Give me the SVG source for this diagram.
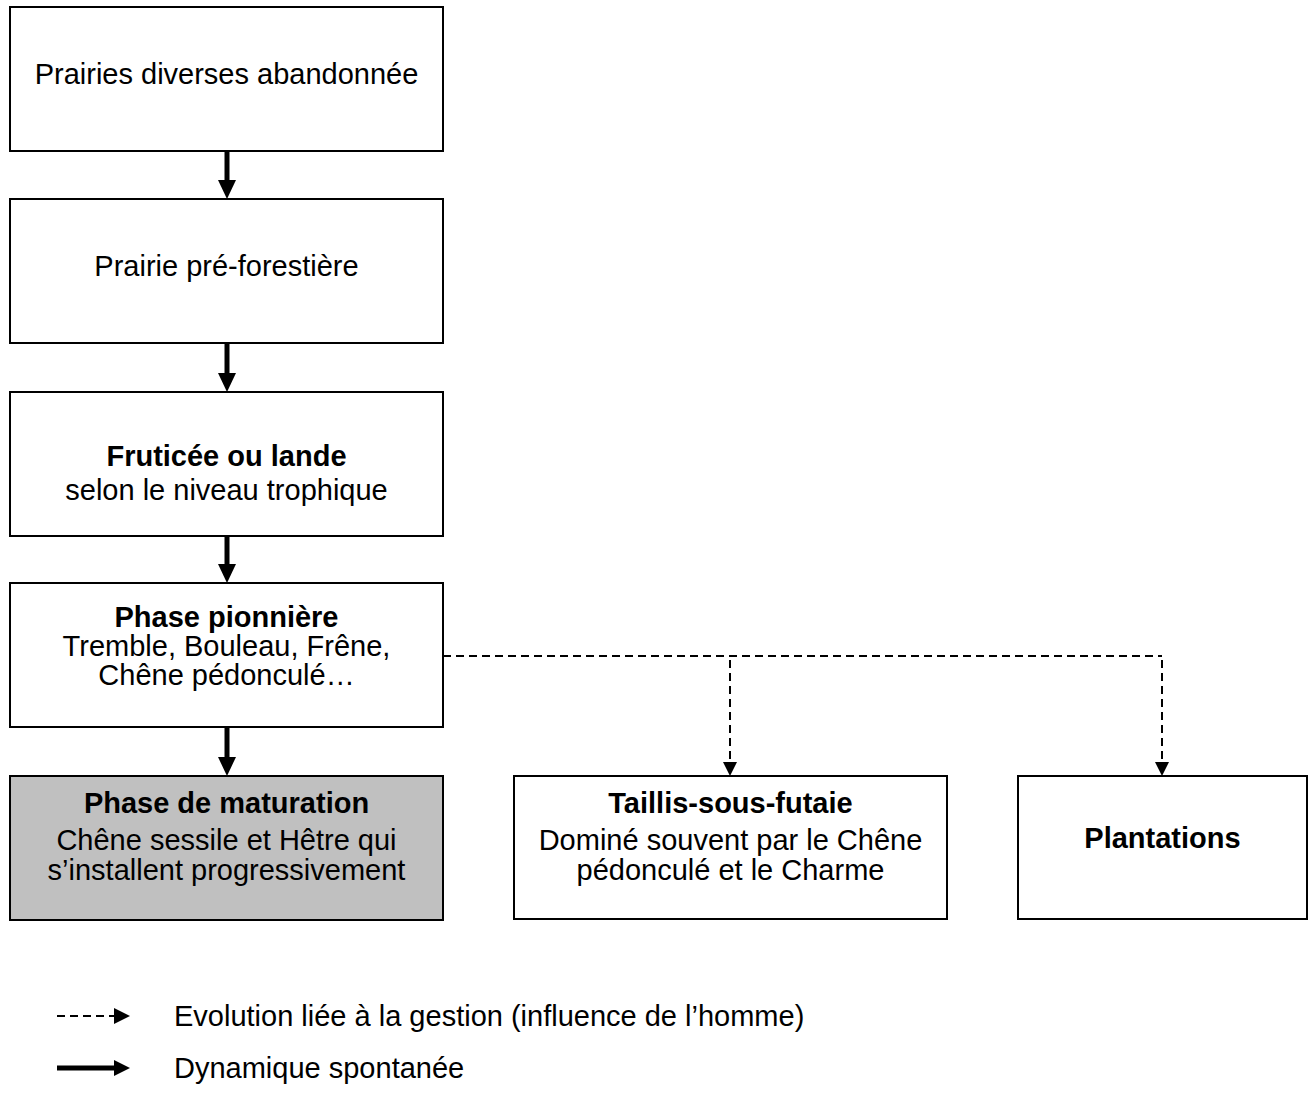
<svg xmlns="http://www.w3.org/2000/svg" width="1311" height="1104" viewBox="0 0 1311 1104">
<defs>
<style>
.box{fill:#fff;stroke:#000;stroke-width:2}
.gray{fill:#c0c0c0}
text{font-family:"Liberation Sans",Arial,sans-serif;font-size:29px;fill:#000;text-anchor:middle}
.b{font-weight:bold}
.l{text-anchor:start}
.solid{stroke:#000;stroke-width:5;fill:none}
.dash{stroke:#000;stroke-width:2;fill:none;stroke-dasharray:8 5}
.head{fill:#000}
</style>
</defs>
<rect width="1311" height="1104" fill="#fff"/>
<g id="n1"><rect class="box" x="10" y="7" width="433" height="144"/><text x="226.5" y="84">Prairies diverses abandonnée</text></g>
<g id="n2"><rect class="box" x="10" y="199" width="433" height="144"/><text x="226.5" y="276">Prairie pré-forestière</text></g>
<g id="n3"><rect class="box" x="10" y="392" width="433" height="144"/><text class="b" x="226.5" y="466">Fruticée ou lande</text><text x="226.5" y="500">selon le niveau trophique</text></g>
<g id="n4"><rect class="box" x="10" y="583" width="433" height="144"/><text class="b" x="226.5" y="627">Phase pionnière</text><text x="226.5" y="656">Tremble, Bouleau, Frêne,</text><text x="226.5" y="685">Chêne pédonculé…</text></g>
<g id="n5"><rect class="box gray" x="10" y="776" width="433" height="144"/><text class="b" x="226.5" y="813">Phase de maturation</text><text x="226.5" y="850">Chêne sessile et Hêtre qui</text><text x="226.5" y="880">s’installent progressivement</text></g>
<g id="n6"><rect class="box" x="514" y="776" width="433" height="143"/><text class="b" x="730.5" y="813">Taillis-sous-futaie</text><text x="730.5" y="850">Dominé souvent par le Chêne</text><text x="730.5" y="880">pédonculé et le Charme</text></g>
<g id="n7"><rect class="box" x="1018" y="776" width="289" height="143"/><text class="b" x="1162.5" y="848">Plantations</text></g>
<g id="connectors">
<line class="solid" x1="227" y1="152" x2="227" y2="181"/><polygon class="head" points="218,180 236,180 227,199"/>
<line class="solid" x1="227" y1="344" x2="227" y2="374"/><polygon class="head" points="218,373 236,373 227,392"/>
<line class="solid" x1="227" y1="537" x2="227" y2="565"/><polygon class="head" points="218,564 236,564 227,583"/>
<line class="solid" x1="227" y1="728" x2="227" y2="758"/><polygon class="head" points="218,757 236,757 227,776"/>
<path class="dash" d="M443,656 H1162"/>
<path class="dash" d="M730,660 V762"/><polygon class="head" points="723,762 737,762 730,776"/>
<path class="dash" d="M1162,660 V762"/><polygon class="head" points="1155,762 1169,762 1162,776"/>
</g>
<g id="legend">
<path class="dash" d="M57,1016 H114" stroke-width="2.5" stroke-dasharray="7 6"/><polygon class="head" points="114,1008 114,1024 130,1016"/>
<text class="l" x="174" y="1026">Evolution liée à la gestion (influence de l’homme)</text>
<line class="solid" x1="57" y1="1068" x2="116" y2="1068" stroke-width="4"/><polygon class="head" points="114,1060 114,1076 130,1068"/>
<text class="l" x="174" y="1078">Dynamique spontanée</text>
</g>
</svg>
